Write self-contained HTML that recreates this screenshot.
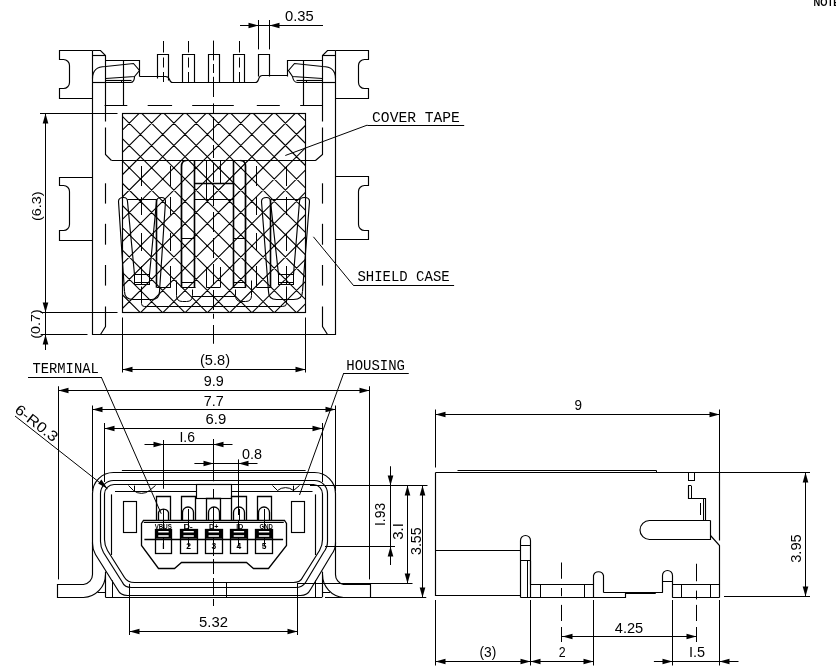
<!DOCTYPE html>
<html><head><meta charset="utf-8"><style>
html,body{margin:0;padding:0;background:#fff;}
svg{display:block;will-change:transform;}
text{font-family:"Liberation Mono",monospace;fill:#000;stroke:none;}
</style></head><body>
<svg width="836" height="672" viewBox="0 0 836 672">
<rect width="836" height="672" fill="#fff"/>
<g fill="none" stroke="#000" stroke-linecap="butt">
<path d="M 92.5 50.5 H 59.5 V 59.5 H 63.5 A 6 6 0 0 1 69.5 65.5 V 82.5 A 6 6 0 0 1 63.5 88.5 H 59.5 V 98.5 H 92.5" stroke-width="1.15"/>
<path d="M 335.5 50.5 H 368.5 V 59.5 H 364.5 A 6 6 0 0 0 358.5 65.5 V 82.5 A 6 6 0 0 0 364.5 88.5 H 368.5 V 98.5 H 335.5" stroke-width="1.15"/>
<path d="M 92.5 177.5 H 59.5 V 185.5 H 63.5 A 6 6 0 0 1 69.5 191.5 V 224.5 A 6 6 0 0 1 63.5 230.5 H 59.5 V 240.5 H 92.5" stroke-width="1.15"/>
<path d="M 335.5 176.5 H 368.5 V 185.5 H 364.5 A 6 6 0 0 0 358.5 191.5 V 224.5 A 6 6 0 0 0 364.5 230.5 H 368.5 V 239.5 H 335.5" stroke-width="1.15"/>
<path d="M 92.5 50.5 V 334.5 H 335.5 V 50.5" stroke-width="1.15"/>
<path d="M 92.5 50.5 H 100.5 L 105.5 55.5 V 121.5" stroke-width="1.15"/>
<path d="M 335.5 50.5 H 327.5 L 322.5 55.5 V 121.5" stroke-width="1.15"/>
<line x1="92.25" y1="55.5" x2="105" y2="55.5" stroke-width="1.15"/>
<line x1="322.5" y1="55.5" x2="335.25" y2="55.5" stroke-width="1.15"/>
<line x1="92.25" y1="82.5" x2="105" y2="82.5" stroke-width="1.15"/>
<line x1="322.5" y1="82.5" x2="335.25" y2="82.5" stroke-width="1.15"/>
<path d="M 105.5 60.5 H 139.5 V 76.5" stroke-width="1.15"/>
<line x1="123.5" y1="60.25" x2="123.5" y2="105.6" stroke-width="1.15"/>
<path d="M 92.5 78.5 C 92.5 70.5 97.5 66.5 105.5 66.5 L 133.5 63.5 L 139.5 70.5 L 134.5 76.5 L 105.5 78.5" stroke-width="1.15"/>
<path d="M 105.5 80.5 L 131.5 80.5" stroke-width="1.15"/>
<path d="M 105.5 82.5 H 130.5 Q 134.5 82.5 134.5 76.5" stroke-width="1.15"/>
<line x1="121.5" y1="80.3" x2="121.5" y2="82.25" stroke-width="1.0"/>
<path d="M 322.5 60.5 H 287.5 V 76.5" stroke-width="1.15"/>
<line x1="303.5" y1="60.25" x2="303.5" y2="105.6" stroke-width="1.15"/>
<path d="M 335.5 78.5 C 335.5 70.5 330.5 66.5 322.5 66.5 L 294.5 63.5 L 288.5 70.5 L 292.5 76.5 L 322.5 78.5" stroke-width="1.15"/>
<path d="M 322.5 80.5 L 296.5 80.5" stroke-width="1.15"/>
<path d="M 322.5 82.5 H 297.5 Q 293.5 82.5 292.5 76.5" stroke-width="1.15"/>
<line x1="306.5" y1="80.3" x2="306.5" y2="82.25" stroke-width="1.0"/>
<path d="M 139.5 76.5 H 165.5 Q 168.5 76.5 169.5 79.5 Q 170.5 82.5 172.5 82.5 H 255.5 Q 257.5 82.5 258.5 79.5 Q 259.5 75.5 262.5 75.5 H 287.5" stroke-width="1.15"/>
<path d="M 157.5 78.5 V 54.5 H 168.5 V 80.5" stroke-width="1.15"/>
<path d="M 182.5 82.5 V 54.5 H 194.5 V 82.5" stroke-width="1.15"/>
<path d="M 208.5 82.5 V 54.5 H 219.5 V 82.5" stroke-width="1.15"/>
<path d="M 233.5 82.5 V 54.5 H 244.5 V 82.5" stroke-width="1.15"/>
<path d="M 258.5 76.5 V 54.5 H 269.5 V 76.5" stroke-width="1.15"/>
<line x1="163.5" y1="41" x2="163.5" y2="52.5" stroke-width="1.0"/>
<line x1="163.5" y1="57.5" x2="163.5" y2="67.5" stroke-width="1.0"/>
<line x1="163.5" y1="72" x2="163.5" y2="82" stroke-width="1.0"/>
<line x1="188.5" y1="41" x2="188.5" y2="52.5" stroke-width="1.0"/>
<line x1="188.5" y1="57.5" x2="188.5" y2="67.5" stroke-width="1.0"/>
<line x1="188.5" y1="72" x2="188.5" y2="82" stroke-width="1.0"/>
<line x1="239.5" y1="41" x2="239.5" y2="52.5" stroke-width="1.0"/>
<line x1="239.5" y1="57.5" x2="239.5" y2="67.5" stroke-width="1.0"/>
<line x1="239.5" y1="72" x2="239.5" y2="82" stroke-width="1.0"/>
<line x1="104.6" y1="105.5" x2="127.3" y2="105.5" stroke-width="1.0"/>
<line x1="147.7" y1="105.5" x2="172.1" y2="105.5" stroke-width="1.0"/>
<line x1="192.2" y1="105.5" x2="233.8" y2="105.5" stroke-width="1.0"/>
<line x1="256.8" y1="105.5" x2="279.8" y2="105.5" stroke-width="1.0"/>
<line x1="300.2" y1="105.5" x2="322.8" y2="105.5" stroke-width="1.0"/>
<path d="M 105.5 127.5 V 154.5 L 111.5 160.5" stroke-width="1.15"/>
<line x1="105.5" y1="183.3" x2="105.5" y2="203.6" stroke-width="1.15"/>
<line x1="105.5" y1="223.8" x2="105.5" y2="244.7" stroke-width="1.15"/>
<line x1="105.5" y1="265" x2="105.5" y2="285.6" stroke-width="1.15"/>
<path d="M 105.5 306.5 V 326.5 L 100.5 334.5" stroke-width="1.15"/>
<path d="M 322.5 127.5 V 154.5 L 315.5 160.5" stroke-width="1.15"/>
<line x1="322.5" y1="183.3" x2="322.5" y2="203.6" stroke-width="1.15"/>
<line x1="322.5" y1="223.8" x2="322.5" y2="244.7" stroke-width="1.15"/>
<line x1="322.5" y1="265" x2="322.5" y2="285.6" stroke-width="1.15"/>
<path d="M 322.5 306.5 V 326.5 L 327.5 334.5" stroke-width="1.15"/>
<line x1="111.6" y1="160.5" x2="315.9" y2="160.5" stroke-width="1.15"/>
<clipPath id="hc"><rect x="122.25" y="113.75" width="183.0" height="198.25"/></clipPath>
<path d="M117.25,-312.5L310.25,-119.5M117.25,-290.2L310.25,-97.2M117.25,-267.9L310.25,-74.9M117.25,-245.6L310.25,-52.6M117.25,-223.3L310.25,-30.3M117.25,-201L310.25,-8M117.25,-178.7L310.25,14.3M117.25,-156.4L310.25,36.6M117.25,-134.1L310.25,58.9M117.25,-111.8L310.25,81.2M117.25,-89.5L310.25,103.5M117.25,-67.2L310.25,125.8M117.25,-44.9L310.25,148.1M117.25,-22.6L310.25,170.4M117.25,-0.3L310.25,192.7M117.25,22L310.25,215M117.25,44.3L310.25,237.3M117.25,66.6L310.25,259.6M117.25,88.9L310.25,281.9M117.25,111.2L310.25,304.2M117.25,133.5L310.25,326.5M117.25,155.8L310.25,348.8M117.25,178.1L310.25,371.1M117.25,200.4L310.25,393.4M117.25,222.7L310.25,415.7M117.25,245L310.25,438M117.25,267.3L310.25,460.3M117.25,289.6L310.25,482.6M117.25,311.9L310.25,504.9M117.25,334.2L310.25,527.2M117.25,356.5L310.25,549.5M117.25,378.8L310.25,571.8M117.25,401.1L310.25,594.1M117.25,423.4L310.25,616.4M117.25,445.7L310.25,638.7M117.25,468L310.25,661M117.25,490.3L310.25,683.3M117.25,512.6L310.25,705.6M117.25,534.9L310.25,727.9M117.25,557.2L310.25,750.2M117.25,579.5L310.25,772.5M117.25,601.8L310.25,794.8M117.25,624.1L310.25,817.1M117.25,646.4L310.25,839.4M117.25,668.7L310.25,861.7M117.25,691L310.25,884M117.25,713.3L310.25,906.3M117.25,735.6L310.25,928.6M117.25,757.9L310.25,950.9M117.25,780.2L310.25,973.2M117.25,-110.05L310.25,-303.05M117.25,-87.75L310.25,-280.75M117.25,-65.45L310.25,-258.45M117.25,-43.15L310.25,-236.15M117.25,-20.85L310.25,-213.85M117.25,1.45L310.25,-191.55M117.25,23.75L310.25,-169.25M117.25,46.05L310.25,-146.95M117.25,68.35L310.25,-124.65M117.25,90.65L310.25,-102.35M117.25,112.95L310.25,-80.05M117.25,135.25L310.25,-57.75M117.25,157.55L310.25,-35.45M117.25,179.85L310.25,-13.15M117.25,202.15L310.25,9.15M117.25,224.45L310.25,31.45M117.25,246.75L310.25,53.75M117.25,269.05L310.25,76.05M117.25,291.35L310.25,98.35M117.25,313.65L310.25,120.65M117.25,335.95L310.25,142.95M117.25,358.25L310.25,165.25M117.25,380.55L310.25,187.55M117.25,402.85L310.25,209.85M117.25,425.15L310.25,232.15M117.25,447.45L310.25,254.45M117.25,469.75L310.25,276.75M117.25,492.05L310.25,299.05M117.25,514.35L310.25,321.35M117.25,536.65L310.25,343.65M117.25,558.95L310.25,365.95M117.25,581.25L310.25,388.25M117.25,603.55L310.25,410.55M117.25,625.85L310.25,432.85M117.25,648.15L310.25,455.15M117.25,670.45L310.25,477.45M117.25,692.75L310.25,499.75M117.25,715.05L310.25,522.05M117.25,737.35L310.25,544.35M117.25,759.65L310.25,566.65" stroke-width="1.1" clip-path="url(#hc)"/>
<rect x="122.5" y="113.5" width="183" height="199" stroke-width="1.15"/>
<path d="M 124.5 291.5 L 118.5 201.5 Q 118.5 197.5 123.5 197.5 Q 127.5 197.5 127.5 201.5 L 134.5 274.5" stroke-width="1.15"/>
<path d="M 124.5 291.5 Q 124.5 299.5 133.5 299.5 H 151.5 Q 159.5 299.5 159.5 291.5 L 165.5 201.5 Q 165.5 197.5 161.5 197.5 Q 156.5 197.5 156.5 201.5 L 149.5 274.5" stroke-width="1.15"/>
<rect x="134.5" y="274.5" width="15" height="10" stroke-width="1.0"/>
<line x1="134.4" y1="282.5" x2="149.3" y2="282.5" stroke-width="1.0"/>
<line x1="127.6" y1="199.5" x2="156.7" y2="199.5" stroke-width="1.0"/>
<path d="M 141.5 286.5 V 303.5 Q 141.5 306.5 144.5 306.5 H 213.5" stroke-width="1.0"/>
<path d="M 302.5 291.5 L 309.5 201.5 Q 309.5 197.5 304.5 197.5 Q 299.5 197.5 299.5 201.5 L 293.5 274.5" stroke-width="1.15"/>
<path d="M 302.5 291.5 Q 302.5 299.5 293.5 299.5 H 276.5 Q 268.5 299.5 268.5 291.5 L 261.5 201.5 Q 261.5 197.5 266.5 197.5 Q 270.5 197.5 270.5 201.5 L 278.5 274.5" stroke-width="1.15"/>
<rect x="278.5" y="274.5" width="15" height="10" stroke-width="1.0"/>
<line x1="293.1" y1="282.5" x2="278.2" y2="282.5" stroke-width="1.0"/>
<line x1="299.9" y1="199.5" x2="270.8" y2="199.5" stroke-width="1.0"/>
<path d="M 286.5 286.5 V 303.5 Q 286.5 306.5 282.5 306.5 H 213.5" stroke-width="1.0"/>
<path d="M 181.5 287.5 V 166.5 Q 181.5 160.5 186.5 160.5" stroke-width="1.7"/>
<path d="M 245.5 287.5 V 166.5 Q 245.5 160.5 240.5 160.5" stroke-width="1.7"/>
<line x1="194.5" y1="160.6" x2="194.5" y2="287.1" stroke-width="1.6"/>
<line x1="233.5" y1="160.6" x2="233.5" y2="287.1" stroke-width="1.6"/>
<line x1="181.6" y1="287.5" x2="195.6" y2="287.5" stroke-width="1.0"/>
<line x1="231.9" y1="287.5" x2="245.9" y2="287.5" stroke-width="1.0"/>
<line x1="181.6" y1="282.5" x2="194.5" y2="282.5" stroke-width="1.0"/>
<line x1="233" y1="282.5" x2="245.9" y2="282.5" stroke-width="1.0"/>
<line x1="181.6" y1="238.5" x2="194.5" y2="238.5" stroke-width="1.0"/>
<line x1="233" y1="238.5" x2="245.9" y2="238.5" stroke-width="1.0"/>
<line x1="206.5" y1="160.6" x2="206.5" y2="199.3" stroke-width="1.0"/>
<line x1="220.5" y1="160.6" x2="220.5" y2="183.3" stroke-width="1.0"/>
<line x1="194.5" y1="183.5" x2="233" y2="183.5" stroke-width="1.3"/>
<line x1="194.5" y1="199.5" x2="233" y2="199.5" stroke-width="1.0"/>
<path d="M 176.5 280.5 V 295.5 Q 176.5 301.5 182.5 301.5 H 186.5 Q 192.5 301.5 192.5 295.5 V 289.5" stroke-width="1.0"/>
<path d="M 251.5 280.5 V 295.5 Q 251.5 301.5 245.5 301.5 H 241.5 Q 235.5 301.5 235.5 295.5 V 289.5" stroke-width="1.0"/>
<line x1="192" y1="296.5" x2="235.5" y2="296.5" stroke-width="1.0"/>
<line x1="206.5" y1="267" x2="206.5" y2="287.1" stroke-width="1.0"/>
<line x1="220.5" y1="267" x2="220.5" y2="287.1" stroke-width="1.0"/>
<line x1="206.3" y1="287.5" x2="220.6" y2="287.5" stroke-width="1.0"/>
<line x1="156.5" y1="199.4" x2="156.5" y2="287.7" stroke-width="1.6"/>
<line x1="170.5" y1="267" x2="170.5" y2="287.7" stroke-width="1.0"/>
<line x1="156.9" y1="287.5" x2="170.6" y2="287.5" stroke-width="1.0"/>
<line x1="270.5" y1="199.4" x2="270.5" y2="287.7" stroke-width="1.6"/>
<line x1="256.5" y1="267" x2="256.5" y2="287.7" stroke-width="1.0"/>
<line x1="270.6" y1="287.5" x2="256.9" y2="287.5" stroke-width="1.0"/>
<line x1="141.5" y1="166" x2="141.5" y2="186" stroke-width="1.0"/>
<line x1="141.5" y1="197" x2="141.5" y2="215" stroke-width="1.0"/>
<line x1="141.5" y1="233" x2="141.5" y2="251" stroke-width="1.0"/>
<line x1="141.5" y1="266" x2="141.5" y2="284" stroke-width="1.0"/>
<line x1="170.5" y1="166" x2="170.5" y2="186" stroke-width="1.0"/>
<line x1="170.5" y1="197" x2="170.5" y2="215" stroke-width="1.0"/>
<line x1="170.5" y1="233" x2="170.5" y2="251" stroke-width="1.0"/>
<line x1="170.5" y1="266" x2="170.5" y2="284" stroke-width="1.0"/>
<line x1="286.5" y1="166" x2="286.5" y2="186" stroke-width="1.0"/>
<line x1="286.5" y1="197" x2="286.5" y2="215" stroke-width="1.0"/>
<line x1="286.5" y1="233" x2="286.5" y2="251" stroke-width="1.0"/>
<line x1="286.5" y1="266" x2="286.5" y2="284" stroke-width="1.0"/>
<line x1="256.5" y1="166" x2="256.5" y2="186" stroke-width="1.0"/>
<line x1="256.5" y1="197" x2="256.5" y2="215" stroke-width="1.0"/>
<line x1="256.5" y1="233" x2="256.5" y2="251" stroke-width="1.0"/>
<line x1="256.5" y1="266" x2="256.5" y2="284" stroke-width="1.0"/>
<line x1="213.5" y1="40.6" x2="213.5" y2="60.4" stroke-width="1.0"/>
<line x1="213.5" y1="64" x2="213.5" y2="73" stroke-width="1.0"/>
<line x1="213.5" y1="76.8" x2="213.5" y2="97" stroke-width="1.0"/>
<line x1="213.5" y1="103.4" x2="213.5" y2="113.5" stroke-width="1.0"/>
<line x1="213.5" y1="117" x2="213.5" y2="141" stroke-width="1.0"/>
<line x1="213.5" y1="145" x2="213.5" y2="158" stroke-width="1.0"/>
<line x1="213.5" y1="163" x2="213.5" y2="182" stroke-width="1.0"/>
<line x1="213.5" y1="186" x2="213.5" y2="206" stroke-width="1.0"/>
<line x1="213.5" y1="212" x2="213.5" y2="232" stroke-width="1.0"/>
<line x1="213.5" y1="238" x2="213.5" y2="258" stroke-width="1.0"/>
<line x1="213.5" y1="264" x2="213.5" y2="284" stroke-width="1.0"/>
<line x1="213.5" y1="290" x2="213.5" y2="310" stroke-width="1.0"/>
<line x1="213.5" y1="313.75" x2="213.5" y2="318.75" stroke-width="1.0"/>
<line x1="213.5" y1="325" x2="213.5" y2="343.75" stroke-width="1.0"/>
<line x1="258.5" y1="20" x2="258.5" y2="49.4" stroke-width="1.0"/>
<line x1="269.5" y1="20" x2="269.5" y2="49.4" stroke-width="1.0"/>
<line x1="240" y1="25.5" x2="323" y2="25.5" stroke-width="1.0"/>
<polygon points="258.5,25.5 248.5,22.7 248.5,28.3" fill="#000" stroke="none"/>
<polygon points="269.5,25.5 279.5,22.7 279.5,28.3" fill="#000" stroke="none"/>
<text x="299.38" y="20.6" font-size="13.8" text-anchor="middle" textLength="28.75" lengthAdjust="spacingAndGlyphs" font-weight="normal" style="font-family:&quot;Liberation Sans&quot;">0.35</text>
<line x1="45.5" y1="113.8" x2="45.5" y2="350" stroke-width="1.0"/>
<line x1="40" y1="113.5" x2="117.5" y2="113.5" stroke-width="1.0"/>
<polygon points="45.5,113.5 42.7,123.5 48.3,123.5" fill="#000" stroke="none"/>
<polygon points="45.5,312.5 42.7,302.5 48.3,302.5" fill="#000" stroke="none"/>
<line x1="40.6" y1="312.5" x2="117.5" y2="312.5" stroke-width="1.0"/>
<line x1="40.6" y1="334.5" x2="87.5" y2="334.5" stroke-width="1.0"/>
<polygon points="45.5,334.5 42.7,344.5 48.3,344.5" fill="#000" stroke="none"/>
<text x="0" y="0" font-size="13.5" text-anchor="middle" textLength="29.6" lengthAdjust="spacingAndGlyphs" style="font-family:&quot;Liberation Sans&quot;" transform="translate(40.6,206.2) rotate(-90)">(6.3)</text>
<text x="0" y="0" font-size="13.5" text-anchor="middle" textLength="29.35" lengthAdjust="spacingAndGlyphs" style="font-family:&quot;Liberation Sans&quot;" transform="translate(39.6,324) rotate(-90)">(0.7)</text>
<line x1="122.5" y1="317.5" x2="122.5" y2="372.5" stroke-width="1.0"/>
<line x1="305.5" y1="317.5" x2="305.5" y2="372.5" stroke-width="1.0"/>
<line x1="122.5" y1="369.5" x2="305.5" y2="369.5" stroke-width="1.0"/>
<polygon points="122.5,369.5 132.5,366.7 132.5,372.3" fill="#000" stroke="none"/>
<polygon points="305.5,369.5 295.5,366.7 295.5,372.3" fill="#000" stroke="none"/>
<text x="215" y="364.5" font-size="14" text-anchor="middle" textLength="30" lengthAdjust="spacingAndGlyphs" font-weight="normal" style="font-family:&quot;Liberation Sans&quot;">(5.8)</text>
<text x="416" y="121.5" font-size="15" text-anchor="middle" textLength="87.8" lengthAdjust="spacingAndGlyphs" font-weight="normal" style="font-family:&quot;Liberation Mono&quot;">COVER TAPE</text>
<line x1="367.3" y1="125.5" x2="464.2" y2="125.5" stroke-width="1.0"/>
<line x1="367.3" y1="125.1" x2="285.3" y2="155.5" stroke-width="1.0"/>
<text x="403.55" y="280.9" font-size="15" text-anchor="middle" textLength="92.3" lengthAdjust="spacingAndGlyphs" font-weight="normal" style="font-family:&quot;Liberation Mono&quot;">SHIELD CASE</text>
<line x1="353.2" y1="285.5" x2="454.1" y2="285.5" stroke-width="1.0"/>
<line x1="353.2" y1="285.1" x2="313.4" y2="236.8" stroke-width="1.0"/>
<line x1="58.5" y1="386.25" x2="58.5" y2="579.4" stroke-width="1.0"/>
<line x1="369.5" y1="386.25" x2="369.5" y2="579.4" stroke-width="1.0"/>
<line x1="58" y1="390.5" x2="369.5" y2="390.5" stroke-width="1.0"/>
<polygon points="58.5,390.5 68.5,387.7 68.5,393.3" fill="#000" stroke="none"/>
<polygon points="369.5,390.5 359.5,387.7 359.5,393.3" fill="#000" stroke="none"/>
<text x="213.75" y="386.25" font-size="14" text-anchor="middle" textLength="20" lengthAdjust="spacingAndGlyphs" font-weight="normal" style="font-family:&quot;Liberation Sans&quot;">9.9</text>
<line x1="92.5" y1="405.5" x2="92.5" y2="491" stroke-width="1.0"/>
<line x1="335.5" y1="405.5" x2="335.5" y2="491" stroke-width="1.0"/>
<line x1="92.5" y1="409.5" x2="335" y2="409.5" stroke-width="1.0"/>
<polygon points="92.5,409.5 102.5,406.7 102.5,412.3" fill="#000" stroke="none"/>
<polygon points="335.5,409.5 325.5,406.7 325.5,412.3" fill="#000" stroke="none"/>
<text x="213.75" y="405.5" font-size="14" text-anchor="middle" textLength="20" lengthAdjust="spacingAndGlyphs" font-weight="normal" style="font-family:&quot;Liberation Sans&quot;">7.7</text>
<line x1="104.5" y1="423" x2="104.5" y2="482" stroke-width="1.0"/>
<line x1="322.5" y1="423" x2="322.5" y2="482" stroke-width="1.0"/>
<line x1="104.5" y1="428.5" x2="322.5" y2="428.5" stroke-width="1.0"/>
<polygon points="104.5,428.5 114.5,425.7 114.5,431.3" fill="#000" stroke="none"/>
<polygon points="322.5,428.5 312.5,425.7 312.5,431.3" fill="#000" stroke="none"/>
<text x="215.85" y="423.5" font-size="14" text-anchor="middle" textLength="20.7" lengthAdjust="spacingAndGlyphs" font-weight="normal" style="font-family:&quot;Liberation Sans&quot;">6.9</text>
<line x1="144.5" y1="444.5" x2="232.5" y2="444.5" stroke-width="1.0"/>
<line x1="163.5" y1="440" x2="163.5" y2="488.75" stroke-width="1.0"/>
<line x1="213.5" y1="439" x2="213.5" y2="481.25" stroke-width="1.0"/>
<line x1="213.5" y1="489" x2="213.5" y2="498" stroke-width="1.0"/>
<line x1="213.5" y1="507" x2="213.5" y2="556" stroke-width="1.0"/>
<line x1="213.5" y1="559" x2="213.5" y2="574" stroke-width="1.0"/>
<line x1="213.5" y1="578" x2="213.5" y2="595" stroke-width="1.0"/>
<line x1="213.5" y1="599" x2="213.5" y2="606" stroke-width="1.0"/>
<polygon points="163.5,444.5 153.5,441.7 153.5,447.3" fill="#000" stroke="none"/>
<polygon points="213.5,444.5 223.5,441.7 223.5,447.3" fill="#000" stroke="none"/>
<text x="187.25" y="442" font-size="14" text-anchor="middle" textLength="15.5" lengthAdjust="spacingAndGlyphs" font-weight="normal" style="font-family:&quot;Liberation Sans&quot;">I.6</text>
<line x1="194.4" y1="463.5" x2="257.5" y2="463.5" stroke-width="1.0"/>
<line x1="238.5" y1="459.4" x2="238.5" y2="515" stroke-width="1.0"/>
<polygon points="213.5,463.5 203.5,460.7 203.5,466.3" fill="#000" stroke="none"/>
<polygon points="238.5,463.5 248.5,460.7 248.5,466.3" fill="#000" stroke="none"/>
<text x="251.9" y="459.4" font-size="14" text-anchor="middle" textLength="20" lengthAdjust="spacingAndGlyphs" font-weight="normal" style="font-family:&quot;Liberation Sans&quot;">0.8</text>
<line x1="310" y1="485.5" x2="427.5" y2="485.5" stroke-width="1.0"/>
<line x1="390.5" y1="466.25" x2="390.5" y2="565" stroke-width="1.0"/>
<polygon points="390.5,485.5 387.7,475.5 393.3,475.5" fill="#000" stroke="none"/>
<polygon points="390.5,546.5 387.7,556.5 393.3,556.5" fill="#000" stroke="none"/>
<line x1="325" y1="546.5" x2="395" y2="546.5" stroke-width="1.0"/>
<line x1="407.5" y1="485" x2="407.5" y2="583.75" stroke-width="1.0"/>
<polygon points="407.5,485.5 404.7,495.5 410.3,495.5" fill="#000" stroke="none"/>
<polygon points="407.5,583.5 404.7,573.5 410.3,573.5" fill="#000" stroke="none"/>
<line x1="297" y1="583.5" x2="412.5" y2="583.5" stroke-width="1.0"/>
<line x1="422.5" y1="485" x2="422.5" y2="597" stroke-width="1.0"/>
<polygon points="422.5,485.5 419.7,495.5 425.3,495.5" fill="#000" stroke="none"/>
<polygon points="422.5,597.5 419.7,587.5 425.3,587.5" fill="#000" stroke="none"/>
<line x1="325" y1="597.5" x2="426.25" y2="597.5" stroke-width="1.0"/>
<text x="0" y="0" font-size="14" text-anchor="middle" textLength="23.2" lengthAdjust="spacingAndGlyphs" style="font-family:&quot;Liberation Sans&quot;" transform="translate(385.4,514.4) rotate(-90)">I.93</text>
<text x="0" y="0" font-size="14" text-anchor="middle" textLength="16.7" lengthAdjust="spacingAndGlyphs" style="font-family:&quot;Liberation Sans&quot;" transform="translate(402.8,531.45) rotate(-90)">3.I</text>
<text x="0" y="0" font-size="14" text-anchor="middle" textLength="27.7" lengthAdjust="spacingAndGlyphs" style="font-family:&quot;Liberation Sans&quot;" transform="translate(420.9,541.15) rotate(-90)">3.55</text>
<line x1="129.5" y1="583.8" x2="129.5" y2="635" stroke-width="1.0"/>
<line x1="297.5" y1="583.8" x2="297.5" y2="635" stroke-width="1.0"/>
<line x1="129.75" y1="631.5" x2="297.5" y2="631.5" stroke-width="1.0"/>
<polygon points="129.5,631.5 139.5,628.7 139.5,634.3" fill="#000" stroke="none"/>
<polygon points="297.5,631.5 287.5,628.7 287.5,634.3" fill="#000" stroke="none"/>
<text x="213.55" y="626.8" font-size="14" text-anchor="middle" textLength="28.9" lengthAdjust="spacingAndGlyphs" font-weight="normal" style="font-family:&quot;Liberation Sans&quot;">5.32</text>
<text x="65.62" y="373" font-size="15" text-anchor="middle" textLength="66.25" lengthAdjust="spacingAndGlyphs" font-weight="normal" style="font-family:&quot;Liberation Mono&quot;">TERMINAL</text>
<line x1="28" y1="377.5" x2="101.25" y2="377.5" stroke-width="1.0"/>
<line x1="101.25" y1="377" x2="161.25" y2="513.75" stroke-width="1.0"/>
<text x="375.62" y="369.5" font-size="15" text-anchor="middle" textLength="58.75" lengthAdjust="spacingAndGlyphs" font-weight="normal" style="font-family:&quot;Liberation Mono&quot;">HOUSING</text>
<line x1="343.75" y1="373.5" x2="408.75" y2="373.5" stroke-width="1.0"/>
<line x1="343.75" y1="373" x2="299.5" y2="495" stroke-width="1.0"/>
<text x="0" y="0" font-size="14.5" text-anchor="middle" textLength="50" lengthAdjust="spacingAndGlyphs" style="font-family:&quot;Liberation Sans&quot;" transform="translate(33.5,427) rotate(38)">6-R0.3</text>
<line x1="15" y1="416" x2="107.5" y2="488.75" stroke-width="1.0"/>
<polygon points="107.5,488.75 98.2,483.5 101.4,479.4" fill="#000" stroke="none"/>
<path d="M 127.5 595.5 Q 120.5 595.5 117.5 589.5 L 95.5 554.5 Q 92.5 549.5 92.5 543.5 V 493.5 A 21 21 0 0 1 113.5 472.5 H 314.5 A 21 21 0 0 1 335.5 493.5 V 543.5 Q 335.5 549.5 331.5 554.5 L 310.5 589.5 Q 307.5 595.5 300.5 595.5 Z " stroke-width="1.15"/>
<path d="M 131.5 587.5 Q 124.5 587.5 122.5 582.5 L 103.5 552.5 Q 100.5 547.5 100.5 541.5 V 493.5 A 13 13 0 0 1 113.5 480.5 H 314.5 A 13 13 0 0 1 327.5 493.5 V 541.5 Q 327.5 547.5 323.5 552.5 L 305.5 582.5 Q 302.5 587.5 295.5 587.5 Z " stroke-width="1.15"/>
<path d="M 134.5 582.5 Q 127.5 582.5 124.5 577.5 L 107.5 550.5 Q 104.5 545.5 104.5 539.5 V 494.5 A 9.6 9.6 0 0 1 114.5 484.5 H 313.5 A 9.6 9.6 0 0 1 322.5 494.5 V 539.5 Q 322.5 545.5 319.5 550.5 L 302.5 577.5 Q 300.5 582.5 293.5 582.5 Z " stroke-width="1.15"/>
<line x1="121.9" y1="470.5" x2="305.6" y2="470.5" stroke-width="1.0"/>
<line x1="111.5" y1="494.4" x2="111.5" y2="555" stroke-width="1.15"/>
<line x1="315.5" y1="494.4" x2="315.5" y2="555" stroke-width="1.15"/>
<line x1="115" y1="491.5" x2="196.25" y2="491.5" stroke-width="1.15"/>
<line x1="231.25" y1="491.5" x2="312.5" y2="491.5" stroke-width="1.15"/>
<path d="M 128.5 485.5 L 133.5 490.5 A 12.5 12.5 0 0 0 149.5 490.5 L 155.5 485.5" stroke-width="1.0"/>
<line x1="134.5" y1="485.6" x2="134.5" y2="491.9" stroke-width="1.0"/>
<path d="M 299.5 485.5 L 293.5 490.5 A 12.5 12.5 0 0 0 277.5 490.5 L 272.5 485.5" stroke-width="1.0"/>
<line x1="293.5" y1="485.6" x2="293.5" y2="491.9" stroke-width="1.0"/>
<rect x="123.5" y="501.5" width="13" height="31" stroke-width="1.15"/>
<rect x="291.5" y="501.5" width="13" height="31" stroke-width="1.15"/>
<rect x="196.5" y="484.5" width="35" height="14" stroke-width="1.15"/>
<path d="M 156.5 520.5 V 496.5 H 170.5 V 520.5" stroke-width="1.3"/>
<path d="M 158.5 520.5 V 512.5 A 5.4 5.4 0 0 1 168.5 512.5 V 520.5" stroke-width="1.3"/>
<line x1="163.5" y1="509" x2="163.5" y2="520" stroke-width="1.0"/>
<path d="M 181.5 520.5 V 496.5 H 195.5 V 520.5" stroke-width="1.3"/>
<path d="M 182.5 520.5 V 512.5 A 5.4 5.4 0 0 1 193.5 512.5 V 520.5" stroke-width="1.3"/>
<line x1="188.5" y1="509" x2="188.5" y2="520" stroke-width="1.0"/>
<path d="M 206.5 520.5 V 498.5 H 220.5 V 520.5" stroke-width="1.3"/>
<path d="M 208.5 520.5 V 512.5 A 5.4 5.4 0 0 1 219.5 512.5 V 520.5" stroke-width="1.3"/>
<line x1="213.5" y1="509" x2="213.5" y2="520" stroke-width="1.0"/>
<path d="M 231.5 520.5 V 496.5 H 246.5 V 520.5" stroke-width="1.3"/>
<path d="M 233.5 520.5 V 512.5 A 5.4 5.4 0 0 1 244.5 512.5 V 520.5" stroke-width="1.3"/>
<line x1="239.5" y1="509" x2="239.5" y2="520" stroke-width="1.0"/>
<path d="M 257.5 520.5 V 496.5 H 271.5 V 520.5" stroke-width="1.3"/>
<path d="M 258.5 520.5 V 512.5 A 5.4 5.4 0 0 1 269.5 512.5 V 520.5" stroke-width="1.3"/>
<line x1="264.5" y1="509" x2="264.5" y2="520" stroke-width="1.0"/>
<path d="M 143.5 520.5 H 284.5 L 286.5 523.5 V 545.5 L 268.5 568.5 H 253.5 L 246.5 562.5 H 181.5 L 174.5 568.5 H 158.5 L 141.5 545.5 V 523.5 Z " stroke-width="1.3"/>
<line x1="143.75" y1="522.5" x2="283.75" y2="522.5" stroke-width="1.0"/>
<line x1="144.4" y1="539.5" x2="283.1" y2="539.5" stroke-width="1.3"/>
<line x1="163.5" y1="521" x2="163.5" y2="546.5" stroke-width="1.0"/>
<rect x="155.5" y="529.5" width="16" height="24" stroke-width="1.3"/>
<rect x="155" y="529.4" width="16.9" height="9.3" fill="#000" stroke="none"/>
<rect x="158.25" y="531" width="10.4" height="1.5" fill="#fff" stroke="none"/>
<rect x="158.25" y="535.2" width="10.4" height="1.6" fill="#fff" stroke="none"/>
<text x="163.25" y="528.7" font-size="6.3" text-anchor="middle" textLength="17.1" lengthAdjust="spacingAndGlyphs" font-weight="bold" style="font-family:&quot;Liberation Sans&quot;">VBUS</text>
<text x="163.45" y="549" font-size="8.5" text-anchor="middle" font-weight="bold" style="font-family:&quot;Liberation Sans&quot;">I</text>
<line x1="188.5" y1="521" x2="188.5" y2="546.5" stroke-width="1.0"/>
<rect x="180.5" y="529.5" width="17" height="24" stroke-width="1.3"/>
<rect x="180.15" y="529.4" width="16.9" height="9.3" fill="#000" stroke="none"/>
<rect x="183.4" y="531" width="10.4" height="1.5" fill="#fff" stroke="none"/>
<rect x="183.4" y="535.2" width="10.4" height="1.6" fill="#fff" stroke="none"/>
<text x="188.1" y="528.7" font-size="6.3" text-anchor="middle" textLength="9.4" lengthAdjust="spacingAndGlyphs" font-weight="bold" style="font-family:&quot;Liberation Sans&quot;">D-</text>
<text x="188.6" y="549" font-size="8.5" text-anchor="middle" font-weight="bold" style="font-family:&quot;Liberation Sans&quot;">2</text>
<rect x="205.5" y="529.5" width="17" height="24" stroke-width="1.3"/>
<rect x="205.3" y="529.4" width="16.9" height="9.3" fill="#000" stroke="none"/>
<rect x="208.55" y="531" width="10.4" height="1.5" fill="#fff" stroke="none"/>
<rect x="208.55" y="535.2" width="10.4" height="1.6" fill="#fff" stroke="none"/>
<text x="213.75" y="528.7" font-size="6.3" text-anchor="middle" textLength="9.3" lengthAdjust="spacingAndGlyphs" font-weight="bold" style="font-family:&quot;Liberation Sans&quot;">D+</text>
<text x="213.75" y="549" font-size="8.5" text-anchor="middle" font-weight="bold" style="font-family:&quot;Liberation Sans&quot;">3</text>
<line x1="238.5" y1="521" x2="238.5" y2="546.5" stroke-width="1.0"/>
<rect x="230.5" y="529.5" width="17" height="24" stroke-width="1.3"/>
<rect x="230.45" y="529.4" width="16.9" height="9.3" fill="#000" stroke="none"/>
<rect x="233.7" y="531" width="10.4" height="1.5" fill="#fff" stroke="none"/>
<rect x="233.7" y="535.2" width="10.4" height="1.6" fill="#fff" stroke="none"/>
<text x="239.8" y="528.7" font-size="6.3" text-anchor="middle" textLength="7" lengthAdjust="spacingAndGlyphs" font-weight="bold" style="font-family:&quot;Liberation Sans&quot;">ID</text>
<text x="238.9" y="549" font-size="8.5" text-anchor="middle" font-weight="bold" style="font-family:&quot;Liberation Sans&quot;">4</text>
<line x1="264.5" y1="521" x2="264.5" y2="546.5" stroke-width="1.0"/>
<rect x="255.5" y="529.5" width="17" height="24" stroke-width="1.3"/>
<rect x="255.6" y="529.4" width="16.9" height="9.3" fill="#000" stroke="none"/>
<rect x="258.85" y="531" width="10.4" height="1.5" fill="#fff" stroke="none"/>
<rect x="258.85" y="535.2" width="10.4" height="1.6" fill="#fff" stroke="none"/>
<text x="266.25" y="528.7" font-size="6.3" text-anchor="middle" textLength="13.3" lengthAdjust="spacingAndGlyphs" font-weight="bold" style="font-family:&quot;Liberation Sans&quot;">GND</text>
<text x="264.05" y="549" font-size="8.5" text-anchor="middle" font-weight="bold" style="font-family:&quot;Liberation Sans&quot;">5</text>
<line x1="105.4" y1="597.5" x2="322.1" y2="597.5" stroke-width="1.15"/>
<line x1="105.5" y1="571.6" x2="105.5" y2="597.25" stroke-width="1.15"/>
<line x1="322.5" y1="571.6" x2="322.5" y2="597.25" stroke-width="1.15"/>
<line x1="112.5" y1="580.4" x2="112.5" y2="597.25" stroke-width="1.0"/>
<line x1="315.5" y1="580.4" x2="315.5" y2="597.25" stroke-width="1.0"/>
<line x1="226.5" y1="582.9" x2="226.5" y2="597.25" stroke-width="1.0"/>
<path d="M 92.5 542.5 V 574.5 A 10 10 0 0 1 83.5 584.5 H 57.5 V 597.5 H 83.5 A 23 23 0 0 0 105.5 574.5" stroke-width="1.15"/>
<line x1="97.5" y1="592.5" x2="105.4" y2="592.5" stroke-width="1.0"/>
<path d="M 335.5 542.5 V 574.5 A 10 10 0 0 0 343.5 584.5 H 370.5 V 597.5 H 343.5 A 23 23 0 0 1 322.5 574.5" stroke-width="1.15"/>
<line x1="330" y1="592.5" x2="322.1" y2="592.5" stroke-width="1.0"/>
<line x1="435.5" y1="409.5" x2="435.5" y2="467.5" stroke-width="1.0"/>
<line x1="719.5" y1="409.5" x2="719.5" y2="472.5" stroke-width="1.0"/>
<line x1="435.5" y1="414.5" x2="719.5" y2="414.5" stroke-width="1.0"/>
<polygon points="435.5,414.5 445.5,411.7 445.5,417.3" fill="#000" stroke="none"/>
<polygon points="719.5,414.5 709.5,411.7 709.5,417.3" fill="#000" stroke="none"/>
<text x="578.25" y="410" font-size="14" text-anchor="middle" textLength="7.5" lengthAdjust="spacingAndGlyphs" font-weight="normal" style="font-family:&quot;Liberation Sans&quot;">9</text>
<line x1="435.5" y1="472.5" x2="810" y2="472.5" stroke-width="1.15"/>
<line x1="457.5" y1="470.5" x2="656.5" y2="470.5" stroke-width="1.0"/>
<line x1="656.5" y1="470.5" x2="656.5" y2="472.5" stroke-width="1.0"/>
<path d="M 435.5 472.5 V 595.5 H 520.5" stroke-width="1.15"/>
<line x1="435.5" y1="550.5" x2="520.6" y2="550.5" stroke-width="1.15"/>
<path d="M 520.5 597.5 V 540.5 A 4.82 4.82 0 0 1 530.5 540.5 V 584.5" stroke-width="1.15"/>
<line x1="520.6" y1="545.5" x2="530.25" y2="545.5" stroke-width="1.0"/>
<line x1="520.6" y1="560.5" x2="530.25" y2="560.5" stroke-width="1.0"/>
<line x1="527.5" y1="560.6" x2="527.5" y2="597.25" stroke-width="1.0"/>
<line x1="530.5" y1="560.6" x2="530.5" y2="597.25" stroke-width="1.15"/>
<line x1="530.25" y1="584.5" x2="593.1" y2="584.5" stroke-width="1.15"/>
<line x1="540.5" y1="584.75" x2="540.5" y2="597.25" stroke-width="1.0"/>
<line x1="584.5" y1="584.75" x2="584.5" y2="597.25" stroke-width="1.0"/>
<path d="M 520.5 597.5 H 625.5 V 592.5" stroke-width="1.15"/>
<line x1="603.5" y1="592.5" x2="662.9" y2="592.5" stroke-width="1.15"/>
<path d="M 593.5 597.5 V 575.5 A 5.2 5.2 0 0 1 603.5 575.5 V 592.5" stroke-width="1.15"/>
<line x1="625.4" y1="593.5" x2="655.75" y2="593.5" stroke-width="1.0"/>
<path d="M 662.5 592.5 V 575.5 A 4.7 4.7 0 0 1 672.5 575.5 V 597.5" stroke-width="1.15"/>
<line x1="662.9" y1="581.5" x2="672.3" y2="581.5" stroke-width="1.0"/>
<line x1="672.3" y1="584.5" x2="719.5" y2="584.5" stroke-width="1.15"/>
<line x1="681.5" y1="584.75" x2="681.5" y2="597.5" stroke-width="1.0"/>
<line x1="710.5" y1="584.75" x2="710.5" y2="597.5" stroke-width="1.0"/>
<line x1="672.3" y1="597.5" x2="719.5" y2="597.5" stroke-width="1.15"/>
<path d="M 719.5 472.5 V 540.5" stroke-width="1.15"/>
<path d="M 710.5 535.5 L 719.5 545.5 V 597.5" stroke-width="1.15"/>
<path d="M 710.5 520.5 H 649.5 A 9.5 9.5 0 0 0 649.5 539.5 H 710.5 V 520.5" stroke-width="1.15"/>
<rect x="688.5" y="472.5" width="6" height="8" stroke-width="1.0"/>
<path d="M 688.5 485.5 V 498.5 H 705.5 V 520.5" stroke-width="1.15"/>
<line x1="691.5" y1="485.6" x2="691.5" y2="498.1" stroke-width="1.0"/>
<line x1="688.1" y1="485.5" x2="691" y2="485.5" stroke-width="1.0"/>
<line x1="703.5" y1="498.5" x2="703.5" y2="520" stroke-width="1.0"/>
<line x1="700.5" y1="503" x2="700.5" y2="515" stroke-width="1.0"/>
<line x1="561.5" y1="562.5" x2="561.5" y2="578.75" stroke-width="1.0"/>
<line x1="561.5" y1="588" x2="561.5" y2="596.25" stroke-width="1.0"/>
<line x1="561.5" y1="604.9" x2="561.5" y2="621" stroke-width="1.0"/>
<line x1="561.5" y1="627" x2="561.5" y2="642" stroke-width="1.0"/>
<line x1="696.5" y1="563.75" x2="696.5" y2="581.25" stroke-width="1.0"/>
<line x1="696.5" y1="590.6" x2="696.5" y2="599.4" stroke-width="1.0"/>
<line x1="696.5" y1="604.9" x2="696.5" y2="621" stroke-width="1.0"/>
<line x1="696.5" y1="627" x2="696.5" y2="642" stroke-width="1.0"/>
<line x1="724" y1="596.5" x2="810" y2="596.5" stroke-width="1.0"/>
<line x1="805.5" y1="472.9" x2="805.5" y2="596.8" stroke-width="1.0"/>
<polygon points="805.5,472.5 802.7,482.5 808.3,482.5" fill="#000" stroke="none"/>
<polygon points="805.5,596.5 802.7,586.5 808.3,586.5" fill="#000" stroke="none"/>
<text x="0" y="0" font-size="14.5" text-anchor="middle" textLength="28.4" lengthAdjust="spacingAndGlyphs" style="font-family:&quot;Liberation Sans&quot;" transform="translate(800.6,548.6) rotate(-90)">3.95</text>
<line x1="435.5" y1="600" x2="435.5" y2="665.5" stroke-width="1.0"/>
<line x1="530.5" y1="600" x2="530.5" y2="665.5" stroke-width="1.0"/>
<line x1="593.5" y1="600" x2="593.5" y2="665.5" stroke-width="1.0"/>
<line x1="672.5" y1="600" x2="672.5" y2="665.5" stroke-width="1.0"/>
<line x1="719.5" y1="600" x2="719.5" y2="665.5" stroke-width="1.0"/>
<line x1="435.4" y1="661.5" x2="593.4" y2="661.5" stroke-width="1.0"/>
<polygon points="435.5,661.5 445.5,658.7 445.5,664.3" fill="#000" stroke="none"/>
<polygon points="530.5,661.5 520.5,658.7 520.5,664.3" fill="#000" stroke="none"/>
<polygon points="530.5,661.5 540.5,658.7 540.5,664.3" fill="#000" stroke="none"/>
<polygon points="593.5,661.5 583.5,658.7 583.5,664.3" fill="#000" stroke="none"/>
<text x="487.9" y="657.3" font-size="14" text-anchor="middle" textLength="16.8" lengthAdjust="spacingAndGlyphs" font-weight="normal" style="font-family:&quot;Liberation Sans&quot;">(3)</text>
<text x="562.15" y="657.3" font-size="14" text-anchor="middle" textLength="6.9" lengthAdjust="spacingAndGlyphs" font-weight="normal" style="font-family:&quot;Liberation Sans&quot;">2</text>
<line x1="562" y1="636.5" x2="696.4" y2="636.5" stroke-width="1.0"/>
<polygon points="562.5,636.5 572.5,633.7 572.5,639.3" fill="#000" stroke="none"/>
<polygon points="696.5,636.5 686.5,633.7 686.5,639.3" fill="#000" stroke="none"/>
<text x="628.98" y="633.3" font-size="14" text-anchor="middle" textLength="28.45" lengthAdjust="spacingAndGlyphs" font-weight="normal" style="font-family:&quot;Liberation Sans&quot;">4.25</text>
<line x1="653.9" y1="661.5" x2="738.5" y2="661.5" stroke-width="1.0"/>
<polygon points="672.5,661.5 662.5,658.7 662.5,664.3" fill="#000" stroke="none"/>
<polygon points="719.5,661.5 729.5,658.7 729.5,664.3" fill="#000" stroke="none"/>
<text x="697.05" y="657.3" font-size="14" text-anchor="middle" textLength="16.1" lengthAdjust="spacingAndGlyphs" font-weight="normal" style="font-family:&quot;Liberation Sans&quot;">I.5</text>
<text x="826.55" y="6" font-size="10.5" text-anchor="middle" textLength="25.9" lengthAdjust="spacingAndGlyphs" font-weight="bold" style="font-family:&quot;Liberation Sans&quot;">NOTE</text>
</g></svg></body></html>
